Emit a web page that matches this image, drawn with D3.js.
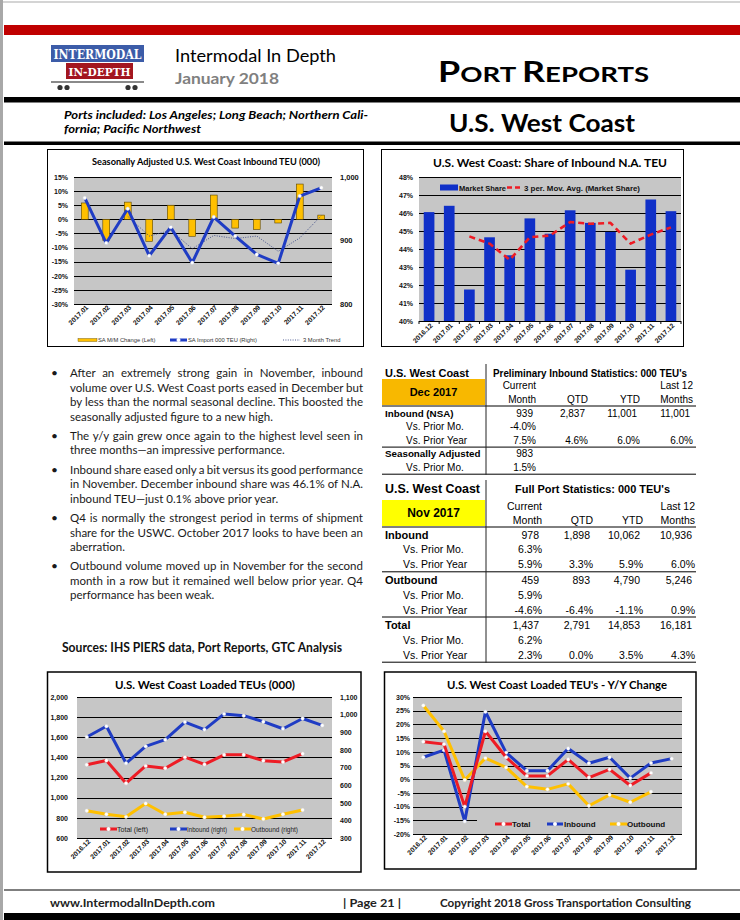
<!DOCTYPE html>
<html><head><meta charset="utf-8">
<script src="https://cdn.jsdelivr.net/npm/d3@7"></script>
<style>html,body{margin:0;padding:0;background:#fff;}svg{display:block;}</style>
</head><body>
<svg id="page" width="740" height="920"></svg>
<script>
// ---------------- DATA ----------------
const c1Months = ["2017.01","2017.02","2017.03","2017.04","2017.05","2017.06","2017.07","2017.08","2017.09","2017.10","2017.11","2017.12"];
const c1Change = [5.8,-7.5,6.1,-7.8,5.0,-6.0,8.6,-3.1,-3.6,-1.3,12.5,1.5];
const c1SA = [967,896,950,876,921,865,937,907,878,864,970,983];
const c1Trend = [null,null,938,907,916,887,908,903,907,883,904,939];
const c1LeftTicks = [15,10,5,0,-5,-10,-15,-20,-25,-30];
const c1RightTicks = [800,900,1000];

const c2Months = ["2016.12","2017.01","2017.02","2017.03","2017.04","2017.05","2017.06","2017.07","2017.08","2017.09","2017.10","2017.11","2017.12"];
const c2Share = [46.05,46.4,41.75,44.65,43.65,45.7,44.85,46.15,45.45,44.95,42.85,46.75,46.1];
const c2MovAvg = [null,null,44.7,44.3,43.4,44.65,44.75,45.5,45.4,45.45,44.3,44.8,45.2];
const c2Ticks = [40,41,42,43,44,45,46,47,48];

const c3Months = c2Months;
const c3Total = [1328,1369,1144,1316,1293,1403,1331,1426,1426,1368,1355,1437,null];
const c3Inbound = [873,934,724,820,858,958,915,1004,994,960,920,978,939];
const c3Outbound = [455,435,420,496,435,446,418,423,433,408,435,459,null];
const c3LeftTicks = [600,800,1000,1200,1400,1600,1800,2000];
const c3RightTicks = [300,400,500,600,700,800,900,1000,1100];

const c4Months = c2Months;
const c4Total = [13.7,12.8,-10.0,17.5,8.0,1.2,1.2,7.2,0.6,3.6,-2.3,2.3,null];
const c4Inbound = [8.0,10.6,-15.4,24.6,9.7,3.1,3.1,11.2,5.8,8.0,0.4,5.9,7.5];
const c4Outbound = [26.9,17.5,-0.3,7.7,4.3,-2.7,-3.7,-1.7,-9.7,-5.7,-8.4,-4.6,null];
const c4Ticks = [-20,-15,-10,-5,0,5,10,15,20,25,30];

const t1Rows = [
  {label:"Inbound (NSA)", bold:true, vals:["939","2,837","11,001","11,001"]},
  {label:"Vs. Prior Mo.", vals:["-4.0%","","",""]},
  {label:"Vs. Prior Year", vals:["7.5%","4.6%","6.0%","6.0%"], line:true},
  {label:"Seasonally Adjusted", bold:true, vals:["983","","",""]},
  {label:"Vs. Prior Mo.", vals:["1.5%","","",""], line:true}
];
const t2Rows = [
  {label:"Inbound", bold:true, vals:["978","1,898","10,062","10,936"]},
  {label:"Vs. Prior Mo.", vals:["6.3%","","",""]},
  {label:"Vs. Prior Year", vals:["5.9%","3.3%","5.9%","6.0%"], line:true},
  {label:"Outbound", bold:true, vals:["459","893","4,790","5,246"]},
  {label:"Vs. Prior Mo.", vals:["5.9%","","",""]},
  {label:"Vs. Prior Year", vals:["-4.6%","-6.4%","-1.1%","0.9%"], line:true},
  {label:"Total", bold:true, vals:["1,437","2,791","14,853","16,181"]},
  {label:"Vs. Prior Mo.", vals:["6.2%","","",""]},
  {label:"Vs. Prior Year", vals:["2.3%","0.0%","3.5%","4.3%"], line:true}
];

const bullets = [
  ["After an extremely strong gain in November, inbound","volume over U.S. West Coast ports eased in December but","by less than the normal seasonal decline. This boosted the","seasonally adjusted figure to a new high."],
  ["The y/y gain grew once again to the highest level seen in","three months\u2014an impressive performance."],
  ["Inbound share eased only a bit versus its good performance","in November. December inbound share was 46.1% of N.A.","inbound TEU\u2014just 0.1% above prior year."],
  ["Q4 is normally the strongest period in terms of shipment","share for the USWC. October 2017 looks to have been an","aberration."],
  ["Outbound volume moved up in November for the second","month in a row but it remained well below prior year. Q4","performance has been weak."]
];
const bulletStarts = [377,439.5,473.5,522,570];

// ---------------- STYLE CONSTANTS ----------------
const CAL = "Lato, 'Open Sans', sans-serif";
const ARI = "'Liberation Sans', Arial, sans-serif";
const PLOT_BG = "#c6c6c6";
const RED = "#ee1c25", BLUE = "#1f3cc4", GOLD = "#ffc000";

const svg = d3.select("#page");
function fit(t, w){ t.attr("textLength", w).attr("lengthAdjust","spacingAndGlyphs"); return t; }
function txt(g, s, x, y, o={}){
  const t = g.append("text").attr("x",x).attr("y",y).text(s)
    .attr("font-family", o.ff||CAL).attr("font-size", o.fs||12)
    .attr("font-weight", o.fw||400).attr("fill", o.fill||"#000");
  if (o.anchor) t.attr("text-anchor", o.anchor);
  if (o.style) t.attr("font-style", o.style);
  if (o.w) fit(t, o.w);
  return t;
}

// ---------------- PAGE CHROME ----------------
svg.append("rect").attr("width",740).attr("height",920).attr("fill","#fff");
svg.append("rect").attr("x",0).attr("y",1).attr("width",740).attr("height",2).attr("fill","#d4d4d4");
svg.append("rect").attr("x",0).attr("y",0).attr("width",3).attr("height",920).attr("fill","#a8a8a8");
svg.append("rect").attr("x",4).attr("y",25).attr("width",736).attr("height",10).attr("fill","#c00000");
svg.append("rect").attr("x",4).attr("y",97).attr("width",736).attr("height",5.5).attr("fill","#000");
svg.append("rect").attr("x",4).attr("y",141.5).attr("width",736).attr("height",3.5).attr("fill","#000");

// logo
const logo = svg.append("g");
logo.append("rect").attr("x",51).attr("y",45).attr("width",93).attr("height",17).attr("fill","#3c5ca8");
logo.append("rect").attr("x",66).attr("y",63).attr("width",67).attr("height",16).attr("fill","#a3161f");
logo.append("rect").attr("x",51).attr("y",81).attr("width",93).attr("height",2).attr("fill","#8a8a8a");
[60,67,128,135].forEach(cx=>logo.append("circle").attr("cx",cx).attr("cy",87.5).attr("r",2.6).attr("fill","#333"));
txt(logo,"INTERMODAL",97.5,58.5,{ff:"'DejaVu Serif','Liberation Serif',serif",fs:12,fw:700,fill:"#fff",anchor:"middle",w:88});
txt(logo,"IN-DEPTH",99.5,76,{ff:"'DejaVu Serif','Liberation Serif',serif",fs:11.5,fw:700,fill:"#fff",anchor:"middle",w:62});

txt(svg,"Intermodal In Depth",175,62,{fs:17,w:161});
txt(svg,"January 2018",175,84,{fs:16,fw:700,fill:"#808080",w:104});
const pr = svg.append("text").attr("x",438).attr("y",82).attr("font-family",CAL).attr("font-weight",700).attr("fill","#000");
[["P",28],["ORT ",21.5],["R",28],["EPORTS",21.5]].forEach(([s,f])=>pr.append("tspan").attr("font-size",f).text(s));
fit(pr,211);
txt(svg,"Ports included: Los Angeles; Long Beach; Northern Cali-",64,119,{fs:11.5,fw:700,style:"italic",w:304});
txt(svg,"fornia; Pacific Northwest",64,133,{fs:11.5,fw:700,style:"italic",w:137});
txt(svg,"U.S. West Coast",449,132,{fs:25,fw:700,w:186});

// footer
svg.append("rect").attr("x",4).attr("y",889.5).attr("width",736).attr("height",1).attr("fill","#000");
svg.append("rect").attr("x",4).attr("y",913).attr("width",736).attr("height",7).attr("fill","#000");
txt(svg,"www.IntermodalInDepth.com",50,907,{fs:12,fw:700,fill:"#222",w:165});
txt(svg,"| Page 21 |",343,907,{fs:12,fw:700,fill:"#222",w:58});
txt(svg,"Copyright 2018 Gross Transportation Consulting",440,907,{fs:12,fw:700,fill:"#222",w:251});

// ---------------- BULLETS ----------------
const bg = svg.append("g").attr("font-family",CAL).attr("font-size",11.5).attr("fill","#1a1a1a");
bullets.forEach((lines,i)=>{
  const y0 = bulletStarts[i];
  bg.append("text").attr("x",51).attr("y",y0).text("\u2022").attr("font-size",12);
  lines.forEach((s,j)=>{
    const t = bg.append("text").attr("x",70).attr("y",y0 + j*14.6).text(s);
    if (j < lines.length-1) {
      const n = (s.match(/ /g)||[]).length;
      const w = t.node().getComputedTextLength();
      if (n) t.attr("word-spacing", ((293 - w)/n).toFixed(2));
    }
  });
});
txt(svg,"Sources: IHS PIERS data, Port Reports, GTC Analysis",62,652,{fs:12.5,fw:700,fill:"#111",w:280});

// ---------------- helpers ----------------
function frame(x,y,w,h,sw){
  svg.append("rect").attr("x",x).attr("y",y).attr("width",w).attr("height",h)
    .attr("fill","none").attr("stroke","#000").attr("stroke-width",sw||1);
}
function grid(g, scale, ticks, p){
  g.append("g").attr("transform",`translate(${p.l},0)`)
    .call(d3.axisLeft(scale).tickValues(ticks).tickSize(-(p.r-p.l)).tickFormat(""))
    .call(a=>a.select(".domain").remove())
    .selectAll("line").attr("stroke","#000").attr("stroke-width",1).attr("shape-rendering","crispEdges");
}
function leftLabels(g, scale, ticks, x, fmt, fs){
  g.append("g").attr("transform",`translate(${x},0)`)
    .call(d3.axisLeft(scale).tickValues(ticks).tickSize(0).tickPadding(0).tickFormat(fmt))
    .call(a=>a.select(".domain").remove())
    .selectAll("text").attr("font-family",ARI).attr("font-size",fs).attr("font-weight",700).attr("fill","#111");
}
function rightLabels(g, scale, ticks, x, fmt, fs){
  g.append("g").attr("transform",`translate(${x},0)`)
    .call(d3.axisRight(scale).tickValues(ticks).tickSize(0).tickPadding(0).tickFormat(fmt))
    .call(a=>a.select(".domain").remove())
    .selectAll("text").attr("font-family",ARI).attr("font-size",fs).attr("font-weight",700).attr("fill","#111");
}
function xLabels(g, months, cxf, y, fs){
  months.forEach(m=>{
    g.append("text").attr("transform",`translate(${cxf(m)+4},${y}) rotate(-45)`)
      .attr("text-anchor","end").attr("font-family",ARI).attr("font-size",fs).attr("font-weight",700).attr("fill","#111").text(m);
  });
}
function series(g, months, vals, xf, yf, color, w, dash, markers){
  const pts = months.map((m,i)=>[m, vals[i]]);
  const line = d3.line().defined(d=>d[1]!=null).x(d=>xf(d[0])).y(d=>yf(d[1]));
  const p = g.append("path").attr("d",line(pts)).attr("fill","none").attr("stroke",color).attr("stroke-width",w).attr("stroke-linejoin","round");
  if (dash) p.attr("stroke-dasharray",dash);
  if (markers) {
    g.selectAll(null).data(pts.filter(d=>d[1]!=null)).enter().append("circle")
      .attr("cx",d=>xf(d[0])).attr("cy",d=>yf(d[1])).attr("r",1.7)
      .attr("fill","#fff").attr("stroke","#e8e8e8").attr("stroke-width",0.4);
  }
}
function legendLine(g, x1, x2, y, color, w){
  g.append("line").attr("x1",x1).attr("x2",x2).attr("y1",y).attr("y2",y).attr("stroke",color).attr("stroke-width",w);
  g.append("circle").attr("cx",(x1+x2)/2).attr("cy",y).attr("r",2).attr("fill","#fff");
}

// ---------------- CHART 1 ----------------
{
  const g = svg.append("g");
  frame(47.5,149.5,316,197,1);
  const p = {l:74, r:332, t:177, b:304};
  g.append("rect").attr("x",p.l).attr("y",p.t).attr("width",p.r-p.l).attr("height",p.b-p.t).attr("fill",PLOT_BG);
  const x = d3.scaleBand().domain(c1Months).range([p.l,p.r]).paddingInner(0.68).paddingOuter(0.34);
  const cx = m => x(m) + x.bandwidth()/2;
  const yL = d3.scaleLinear().domain([-30,15]).range([p.b,p.t]);
  const yR = d3.scaleLinear().domain([800,1000]).range([p.b,p.t]);
  grid(g, yL, c1LeftTicks, p);
  g.selectAll(null).data(c1Months.map((m,i)=>[m,c1Change[i]])).enter().append("rect")
    .attr("x",d=>x(d[0])).attr("width",x.bandwidth())
    .attr("y",d=>Math.min(yL(d[1]),yL(0))).attr("height",d=>Math.abs(yL(d[1])-yL(0)))
    .attr("fill",GOLD).attr("stroke","#5a4500").attr("stroke-width",0.6);
  series(g, c1Months, c1Trend, cx, yR, "#3b4a86", 0.9, "1,1.4", false);
  series(g, c1Months, c1SA, cx, yR, BLUE, 3, null, true);
  leftLabels(g, yL, c1LeftTicks, 68, d=>d+"%", 7);
  rightLabels(g, yR, c1RightTicks, 340, d3.format(","), 7.5);
  xLabels(g, c1Months, cx, 308, 6.8);
  txt(g,"Seasonally Adjusted U.S. West Coast Inbound TEU (000)",92,165,{fs:9.6,fw:700,w:228});
  g.append("rect").attr("x",78).attr("y",338.5).attr("width",19).attr("height",3).attr("fill",GOLD).attr("stroke","#5a4500").attr("stroke-width",0.4);
  txt(g,"SA M/M Change (Left)",98,342,{ff:ARI,fs:5.8,fill:"#333"});
  legendLine(g,170,187,340,BLUE,3);
  txt(g,"SA Import 000 TEU (Right)",188,342,{ff:ARI,fs:5.8,fill:"#333"});
  g.append("line").attr("x1",283).attr("x2",300).attr("y1",340).attr("y2",340).attr("stroke","#3b4a86").attr("stroke-width",0.9).attr("stroke-dasharray","1,1.4");
  txt(g,"3 Month Trend",303,342,{ff:ARI,fs:5.8,fill:"#333"});
}

// ---------------- CHART 2 ----------------
{
  const g = svg.append("g");
  frame(381.5,149.5,302,197,1);
  const p = {l:419, r:681, t:177, b:321};
  g.append("rect").attr("x",p.l).attr("y",p.t).attr("width",p.r-p.l).attr("height",p.b-p.t).attr("fill",PLOT_BG);
  const x = d3.scaleBand().domain(c2Months).range([p.l,p.r]).paddingInner(0.47).paddingOuter(0.235);
  const cx = m => x(m) + x.bandwidth()/2;
  const y = d3.scaleLinear().domain([40,48]).range([p.b,p.t]);
  grid(g, y, c2Ticks, p);
  g.selectAll(null).data(c2Months.map((m,i)=>[m,c2Share[i]])).enter().append("rect")
    .attr("x",d=>x(d[0])).attr("width",x.bandwidth())
    .attr("y",d=>y(d[1])).attr("height",d=>y(40)-y(d[1]))
    .attr("fill","#1030c8");
  c2Months.concat(["end"]).forEach((m,i)=>{
    const bx = p.l + i*(p.r-p.l)/c2Months.length;
    g.append("line").attr("x1",bx).attr("x2",bx).attr("y1",p.b).attr("y2",p.b+3).attr("stroke","#000");
  });
  series(g, c2Months, c2MovAvg, cx, y, RED, 2.6, "6,4", false);
  leftLabels(g, y, c2Ticks, 413, d=>d+"%", 7);
  xLabels(g, c2Months, cx, 326, 6.8);
  txt(g,"U.S. West Coast: Share of Inbound N.A. TEU",433,167,{fs:11.5,fw:700,w:234});
  g.append("rect").attr("x",437).attr("y",182).attr("width",205).attr("height",11).attr("fill",PLOT_BG);
  g.append("rect").attr("x",440).attr("y",184.5).attr("width",18).attr("height",6).attr("fill","#1030c8");
  txt(g,"Market Share",459,190.5,{ff:ARI,fs:7.5,fw:700,fill:"#111",w:47});
  g.append("line").attr("x1",507).attr("x2",522).attr("y1",187.5).attr("y2",187.5).attr("stroke",RED).attr("stroke-width",2.6).attr("stroke-dasharray","5,3");
  txt(g,"3 per. Mov. Avg. (Market Share)",524,190.5,{ff:ARI,fs:7.5,fw:700,fill:"#111",w:116});
}

// ---------------- TABLES ----------------
function table(cfg, rows){
  const g = svg.append("g");
  txt(g,"U.S. West Coast",385,cfg.titleY,{ff:ARI,fs:cfg.titleFs,fw:700,w:cfg.titleW});
  txt(g,cfg.heading,cfg.headX,cfg.titleY,{ff:ARI,fs:cfg.headFs,fw:700,w:cfg.headW});
  g.append("rect").attr("x",382).attr("y",cfg.cellY).attr("width",103).attr("height",26).attr("fill",cfg.cellFill);
  txt(g,cfg.month,433.5,cfg.cellY+17,{ff:ARI,fs:cfg.titleFs,fw:700,anchor:"middle"});
  const hy1 = cfg.cellY+10, hy2 = cfg.cellY+24;
  txt(g,"Current",cfg.cols[0],hy1,{ff:ARI,fs:cfg.fs,anchor:"end"});
  txt(g,"Month",cfg.cols[0],hy2,{ff:ARI,fs:cfg.fs,anchor:"end"});
  txt(g,"QTD",cfg.cols[1],hy2,{ff:ARI,fs:cfg.fs,anchor:"end"});
  txt(g,"YTD",cfg.cols[2],hy2,{ff:ARI,fs:cfg.fs,anchor:"end"});
  txt(g,"Last 12",cfg.cols[3],hy1,{ff:ARI,fs:cfg.fs,anchor:"end"});
  txt(g,"Months",cfg.cols[3],hy2,{ff:ARI,fs:cfg.fs,anchor:"end"});
  const hl = cfg.cellY+27;
  g.append("line").attr("x1",382).attr("x2",696).attr("y1",hl).attr("y2",hl).attr("stroke","#000").attr("stroke-width",1);
  let yy = hl + cfg.first;
  rows.forEach(r=>{
    txt(g,r.label,r.bold?385:cfg.indent,yy,{ff:ARI,fs:r.bold?cfg.labFs:cfg.fs,fw:r.bold?700:400});
    r.vals.forEach((v,i)=>{
      if (!v) return;
      const off = v.indexOf("%")>=0 ? 0 : 3;
      txt(g,v,cfg.cols[i]-off,yy,{ff:ARI,fs:cfg.fs,anchor:"end"});
    });
    if (r.line) {
      g.append("line").attr("x1",382).attr("x2",696).attr("y1",yy+3.5).attr("y2",yy+3.5).attr("stroke","#000").attr("stroke-width",1);
      yy += cfg.rh + 0.5;
    } else yy += cfg.rh;
  });
  g.append("line").attr("x1",486).attr("x2",486).attr("y1",cfg.titleY-13).attr("y2",yy-cfg.rh+3.5).attr("stroke","#222").attr("stroke-width",1);
}
table({titleY:377,titleFs:11,titleW:84,heading:"Preliminary Inbound Statistics: 000 TEU's",headX:493,headFs:10,headW:194,
  cellY:379,cellFill:"#f8b800",month:"Dec 2017",cols:[536,588,640,693],fs:10,labFs:9.8,indent:406,first:11,rh:13.3}, t1Rows);
table({titleY:493,titleFs:12,titleW:95,heading:"Full Port Statistics: 000 TEU's",headX:515,headFs:11,headW:155,
  cellY:500,cellFill:"#ffff00",month:"Nov 2017",cols:[542,593,643,695],fs:10.5,labFs:11,indent:403,first:11.5,rh:14.9}, t2Rows);

// ---------------- CHART 3 ----------------
{
  const g = svg.append("g");
  frame(47.5,672,313.5,200,1.5);
  const p = {l:77, r:332, t:697, b:838};
  g.append("rect").attr("x",p.l).attr("y",p.t).attr("width",p.r-p.l).attr("height",p.b-p.t).attr("fill",PLOT_BG);
  const x = d3.scalePoint().domain(c3Months).range([p.l,p.r]).padding(0.5);
  const yL = d3.scaleLinear().domain([600,2000]).range([p.b,p.t]);
  const yR = d3.scaleLinear().domain([300,1100]).range([p.b,p.t]);
  grid(g, yL, c3LeftTicks, p);
  series(g, c3Months, c3Total, x, yL, RED, 3, null, true);
  series(g, c3Months, c3Inbound, x, yR, BLUE, 3, null, true);
  series(g, c3Months, c3Outbound, x, yR, GOLD, 3, null, true);
  leftLabels(g, yL, c3LeftTicks, 68, d3.format(","), 7);
  rightLabels(g, yR, c3RightTicks, 340, d3.format(","), 7);
  xLabels(g, c3Months, x, 842, 6.8);
  txt(g,"U.S. West Coast Loaded TEUs (000)",115,689,{fs:12,fw:700,w:180});
  legendLine(g,100,117,829,RED,3);
  txt(g,"Total (left)",117,831.5,{ff:ARI,fs:6.4,fill:"#222",w:31});
  legendLine(g,170,187,829,BLUE,3);
  txt(g,"Inbound (right)",187,831.5,{ff:ARI,fs:6.4,fill:"#222",w:40});
  legendLine(g,234,251,829,GOLD,3);
  txt(g,"Outbound (right)",251,831.5,{ff:ARI,fs:6.4,fill:"#222",w:47});
}

// ---------------- CHART 4 ----------------
{
  const g = svg.append("g");
  frame(384.5,672,311.5,197,1.5);
  const p = {l:413, r:682, t:697, b:834};
  g.append("rect").attr("x",p.l).attr("y",p.t).attr("width",p.r-p.l).attr("height",p.b-p.t).attr("fill",PLOT_BG);
  const x = d3.scalePoint().domain(c4Months).range([p.l,p.r]).padding(0.5);
  const y = d3.scaleLinear().domain([-20,30]).range([p.b,p.t]);
  grid(g, y, c4Ticks, p);
  g.append("rect").attr("x",477).attr("y",814).attr("width",p.r-477).attr("height",18).attr("fill",PLOT_BG);
  series(g, c4Months, c4Outbound, x, y, GOLD, 3, null, true);
  series(g, c4Months, c4Inbound, x, y, BLUE, 3, null, true);
  series(g, c4Months, c4Total, x, y, RED, 3, null, true);
  leftLabels(g, y, c4Ticks, 410, d=>d+"%", 7);
  xLabels(g, c4Months, x, 838, 6.8);
  txt(g,"U.S. West Coast Loaded TEU's - Y/Y Change",447,689,{fs:12,fw:700,w:220});
  legendLine(g,495,512,824,RED,3);
  txt(g,"Total",512,827,{ff:ARI,fs:8,fw:700,fill:"#111"});
  legendLine(g,547,563,824,BLUE,3);
  txt(g,"Inbound",564,827,{ff:ARI,fs:8,fw:700,fill:"#111"});
  legendLine(g,610,627,824,GOLD,3);
  txt(g,"Outbound",627,827,{ff:ARI,fs:8,fw:700,fill:"#111"});
}
</script>
</body></html>
